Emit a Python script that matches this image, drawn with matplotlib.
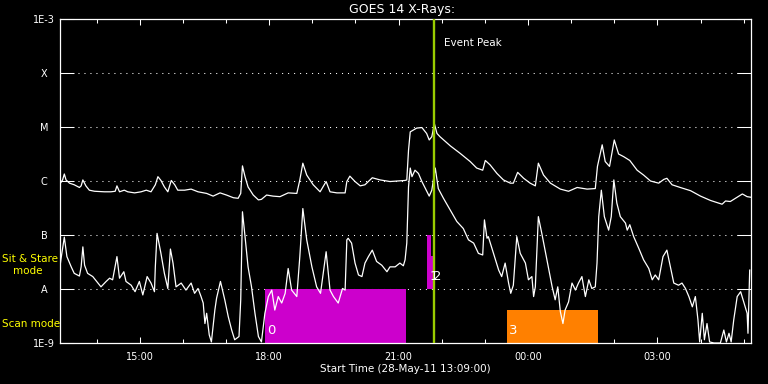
import numpy as np
import matplotlib
matplotlib.use('Agg')
import matplotlib.pyplot as plt
from matplotlib.ticker import FixedLocator, NullLocator

# --- data: hours of day on 28-May-11 (values past 24 are 29-May), log10 flux W/m^2 ---
long_hours = [13.16, 13.21, 13.25, 13.29, 13.37, 13.48, 13.60, 13.64, 13.68, 13.75, 13.83, 13.95,
              14.18, 14.33, 14.43, 14.47, 14.53, 14.64, 14.72, 14.88, 15.03, 15.15, 15.26, 15.36,
              15.42, 15.49, 15.57, 15.65, 15.73, 15.81, 15.88, 16.04, 16.19, 16.35, 16.55, 16.70,
              16.86, 17.01, 17.17, 17.28, 17.34, 17.38, 17.44, 17.51, 17.63, 17.75, 17.82, 17.94,
              18.09, 18.25, 18.44, 18.64, 18.71, 18.78, 18.87, 19.02, 19.18, 19.32, 19.41, 19.57,
              19.76, 19.80, 19.87, 19.99, 20.11, 20.22, 20.39, 20.57, 20.80, 21.15, 21.19, 21.23,
              21.27, 21.42, 21.54, 21.65, 21.71, 21.77, 21.83, 21.89, 21.96, 22.20, 22.43, 22.66,
              22.81, 22.95, 23.01, 23.12, 23.28, 23.43, 23.59, 23.66, 23.76, 23.90, 24.05, 24.17,
              24.24, 24.36, 24.52, 24.75, 24.94, 25.14, 25.37, 25.56, 25.61, 25.72, 25.79, 25.89,
              26.00, 26.10, 26.22, 26.36, 26.53, 26.68, 26.84, 27.03, 27.15, 27.22, 27.34, 27.53,
              27.77, 28.00, 28.23, 28.50, 28.58, 28.69, 28.85, 28.97, 29.08, 29.16]
long_logflux = [-6.04, -5.98, -5.87, -5.98, -6.04, -6.07, -6.12, -6.09, -5.98, -6.09, -6.17, -6.19,
                -6.20, -6.20, -6.19, -6.09, -6.20, -6.17, -6.20, -6.22, -6.20, -6.17, -6.20, -6.07,
                -5.92, -5.99, -6.11, -6.20, -5.99, -6.07, -6.17, -6.17, -6.15, -6.20, -6.23, -6.28,
                -6.22, -6.26, -6.31, -6.32, -6.23, -5.72, -5.92, -6.11, -6.26, -6.35, -6.34, -6.26,
                -6.28, -6.29, -6.22, -6.23, -5.98, -5.67, -5.89, -6.07, -6.20, -6.01, -6.20, -6.22,
                -6.22, -6.01, -5.91, -6.01, -6.09, -6.07, -5.94, -5.98, -6.01, -5.99, -5.98, -5.43,
                -5.09, -5.02, -5.01, -5.12, -5.24, -5.18, -4.94, -5.12, -5.18, -5.35, -5.49, -5.64,
                -5.76, -5.80, -5.62, -5.70, -5.86, -5.98, -6.04, -6.04, -5.84, -5.95, -6.04, -6.09,
                -5.67, -5.89, -6.04, -6.15, -6.19, -6.12, -6.15, -6.14, -5.73, -5.33, -5.64, -5.73,
                -5.24, -5.50, -5.55, -5.62, -5.80, -5.89, -6.00, -6.04, -5.97, -5.95, -6.07, -6.12,
                -6.18, -6.28, -6.36, -6.43, -6.37, -6.38, -6.30, -6.24, -6.29, -6.30]

short_hours = [13.14, 13.17, 13.25, 13.31, 13.41, 13.48, 13.60, 13.64, 13.68, 13.72, 13.79, 13.91,
               14.03, 14.10, 14.22, 14.30, 14.37, 14.47, 14.53, 14.63, 14.68, 14.80, 14.89, 14.99,
               15.07, 15.17, 15.26, 15.34, 15.36, 15.40, 15.49, 15.57, 15.65, 15.71, 15.77, 15.84,
               15.96, 16.07, 16.19, 16.27, 16.35, 16.42, 16.47, 16.51, 16.55, 16.61, 16.66, 16.74,
               16.78, 16.87, 16.97, 17.05, 17.13, 17.20, 17.30, 17.34, 17.38, 17.44, 17.51, 17.59,
               17.67, 17.75, 17.82, 17.90, 17.98, 18.06, 18.13, 18.21, 18.29, 18.37, 18.44, 18.52,
               18.64, 18.71, 18.78, 18.87, 18.99, 19.10, 19.19, 19.32, 19.41, 19.49, 19.60, 19.70,
               19.76, 19.80, 19.83, 19.91, 19.99, 20.07, 20.15, 20.22, 20.30, 20.39, 20.49, 20.61,
               20.73, 20.80, 20.92, 21.03, 21.11, 21.15, 21.19, 21.23, 21.27, 21.31, 21.38, 21.46,
               21.54, 21.64, 21.71, 21.77, 21.85, 21.92, 22.04, 22.20, 22.35, 22.50, 22.62, 22.74,
               22.85, 22.95, 22.99, 23.05, 23.08, 23.20, 23.32, 23.39, 23.47, 23.55, 23.60, 23.66,
               23.74, 23.82, 23.94, 24.01, 24.09, 24.13, 24.17, 24.24, 24.32, 24.44, 24.56, 24.63,
               24.69, 24.75, 24.81, 24.86, 24.94, 25.02, 25.10, 25.17, 25.25, 25.33, 25.41, 25.48,
               25.56, 25.60, 25.64, 25.70, 25.77, 25.87, 25.93, 25.99, 26.06, 26.14, 26.26, 26.30,
               26.36, 26.45, 26.57, 26.68, 26.80, 26.88, 26.95, 27.03, 27.13, 27.22, 27.30, 27.38,
               27.49, 27.57, 27.65, 27.73, 27.81, 27.88, 27.94, 27.98, 28.04, 28.09, 28.15, 28.21,
               28.31, 28.46, 28.54, 28.60, 28.66, 28.71, 28.77, 28.85, 28.93, 29.01, 29.08, 29.10,
               29.14]
short_logflux = [-7.65, -7.46, -7.04, -7.40, -7.59, -7.71, -7.76, -7.59, -7.22, -7.56, -7.71, -7.77,
                 -7.89, -7.96, -7.86, -7.80, -7.83, -7.40, -7.80, -7.68, -7.86, -7.93, -8.05, -7.86,
                 -8.11, -7.77, -7.89, -8.05, -7.59, -6.97, -7.34, -7.71, -7.99, -7.26, -7.52, -7.96,
                 -7.89, -8.02, -7.89, -8.08, -7.99, -8.14, -8.26, -8.64, -8.45, -8.85, -8.98, -8.39,
                 -8.17, -7.86, -8.20, -8.51, -8.76, -8.94, -8.88, -8.20, -6.57, -7.03, -7.59, -7.96,
                 -8.45, -8.88, -8.98, -8.45, -8.14, -8.02, -8.39, -8.14, -8.26, -8.08, -7.62, -8.02,
                 -8.14, -7.40, -6.51, -7.09, -7.59, -7.96, -8.08, -7.31, -8.02, -8.14, -8.26, -7.99,
                 -8.02, -7.09, -7.06, -7.15, -7.52, -7.74, -7.77, -7.52, -7.40, -7.28, -7.49, -7.56,
                 -7.68, -7.59, -7.59, -7.52, -7.57, -7.46, -7.15, -6.11, -5.76, -5.92, -5.80, -5.86,
                 -6.01, -6.17, -6.28, -6.17, -5.76, -6.14, -6.32, -6.54, -6.75, -6.88, -7.09, -7.15,
                 -7.34, -7.37, -6.72, -7.06, -7.03, -7.34, -7.65, -7.77, -7.52, -7.89, -8.08, -7.93,
                 -7.03, -7.34, -7.52, -7.83, -7.77, -8.14, -7.96, -6.66, -6.97, -7.46, -7.96, -8.20,
                 -7.96, -8.42, -8.64, -8.39, -8.24, -7.89, -8.02, -7.89, -7.77, -8.14, -7.83, -7.99,
                 -7.96, -7.52, -6.66, -6.17, -6.66, -6.91, -6.66, -5.98, -6.41, -6.66, -6.78, -6.91,
                 -6.81, -7.03, -7.25, -7.46, -7.62, -7.83, -7.74, -7.83, -7.40, -7.28, -7.59, -7.89,
                 -7.93, -7.89, -7.99, -8.14, -8.33, -8.14, -8.57, -8.98, -8.45, -8.94, -8.64, -8.98,
                 -9.00, -9.00, -8.76, -8.98, -8.82, -8.98, -8.57, -8.14, -8.05, -8.26, -8.45, -8.82,
                 -7.65]

# observing mode intervals
mode_start = [17.90, 21.66, 21.75, 23.52]
mode_end = [21.17, 21.75, 21.83, 25.62]
mode_bottom = [1e-9, 1e-8, 1e-8, 1e-9]
mode_top = [1e-8, 1e-7, 4e-8, 4e-9]
mode_labels = ['0', '1', '2', '3']
mode_colors = ['#cc00cc', '#cc00cc', '#cc00cc', '#ff8000']

peak_hour = 21.82
x_start, x_end = 13.15, 29.17

level_values = [1e-9, 1e-8, 1e-7, 1e-6, 1e-5, 1e-4, 1e-3]
level_labels = ['1E-9', 'A', 'B', 'C', 'M', 'X', '1E-3']
hour_ticks = [15, 18, 21, 24, 27]
hour_labels = ['15:00', '18:00', '21:00', '00:00', '03:00']
minor_hours = list(range(14, 30))

# --- figure ---
fig = plt.figure(figsize=(7.68, 3.84), dpi=100, facecolor='black')
ax = fig.add_axes([60 / 768, 41 / 384, 691 / 768, 324 / 384])
ax.set_facecolor('black')
ax.set_yscale('log')
ax.set_xlim(x_start, x_end)
ax.set_ylim(level_values[0], level_values[-1])

for v in level_values[1:-1]:
    ax.axhline(v, color='white', lw=0.75, ls=(0, (1, 4.75)), zorder=1)

# mode bars
for s, e, b, t, c in zip(mode_start, mode_end, mode_bottom, mode_top, mode_colors):
    ax.bar(s, t - b, width=e - s, bottom=b, align='edge', color=c, linewidth=0, zorder=2)
for s, b, lbl in zip(mode_start, mode_bottom, mode_labels):
    ax.annotate(lbl, xy=(s, b), xytext=(2, 12), textcoords='offset pixels',
                color='white', fontsize=9.5, ha='left', va='center', zorder=6)

# GOES curves
ax.plot(long_hours, 10 ** np.array(long_logflux), color='white', lw=0.9, zorder=3)
ax.plot(short_hours, 10 ** np.array(short_logflux), color='white', lw=0.9, zorder=3)

# event peak
ax.axvline(peak_hour, color='#99cc00', lw=1.7, zorder=4)
ax.annotate('Event Peak', xy=(peak_hour, 1), xycoords=('data', 'axes fraction'),
            xytext=(10, -24), textcoords='offset pixels', color='white',
            fontsize=7.5, ha='left', va='center')

# axes styling
ax.xaxis.set_major_locator(FixedLocator(hour_ticks))
ax.xaxis.set_minor_locator(FixedLocator(minor_hours))
ax.set_xticklabels(hour_labels)
ax.yaxis.set_major_locator(FixedLocator(level_values))
ax.yaxis.set_minor_locator(NullLocator())
ax.set_yticklabels(level_labels)
ax.tick_params(axis='both', which='both', direction='in', colors='white',
               top=True, right=True, width=0.75, labelsize=7)
ax.tick_params(axis='x', which='major', length=4.3, pad=6.5)
ax.tick_params(axis='x', which='minor', length=2.9)
ax.tick_params(axis='y', which='major', length=10, pad=11.5)
for lbl in ax.get_yticklabels():
    lbl.set_horizontalalignment('center')
for sp in ax.spines.values():
    sp.set_color('white')
    sp.set_linewidth(0.9)

fig.text(402 / 768, 1 - 9.5 / 384, 'GOES 14 X-Rays:', color='white', fontsize=9,
         ha='center', va='center')
fig.text(405 / 768, 1 - 369 / 384, 'Start Time (28-May-11 13:09:00)', color='white',
         fontsize=7.5, ha='center', va='center')
fig.text(2 / 768, 1 - 259 / 384, 'Sit & Stare', color='yellow', fontsize=7.5,
         ha='left', va='center')
fig.text(13 / 768, 1 - 271 / 384, 'mode', color='yellow', fontsize=7.5,
         ha='left', va='center')
fig.text(2 / 768, 1 - 324 / 384, 'Scan mode', color='yellow', fontsize=7.5,
         ha='left', va='center')

fig.savefig('out.png', dpi=100, facecolor='black')
